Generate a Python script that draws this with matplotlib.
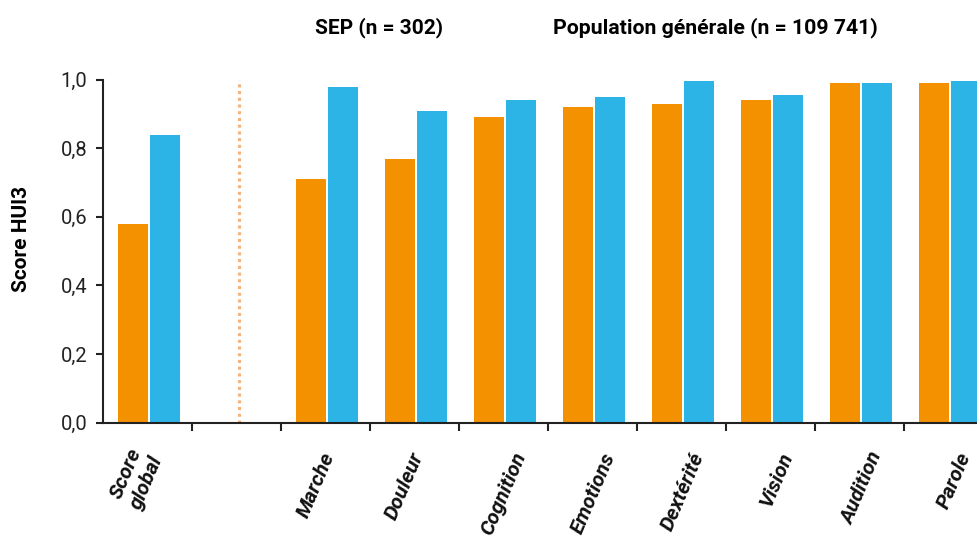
import matplotlib.pyplot as plt
from matplotlib.ticker import FuncFormatter

# Scores HUI3 : SEP vs population générale
categories = ['Score\nglobal', '', 'Marche', 'Douleur', 'Cognition', 'Emotions',
              'Dextérité', 'Vision', 'Audition', 'Parole']
sep = [0.58, None, 0.71, 0.77, 0.89, 0.92, 0.93, 0.94, 0.99, 0.99]
pop = [0.84, None, 0.98, 0.91, 0.94, 0.95, 0.995, 0.955, 0.99, 0.995]
yticks = [0.0, 0.2, 0.4, 0.6, 0.8, 1.0]

orange = '#F39100'
blue = '#2DB4E6'

plt.rcParams['font.family'] = ['Roboto', 'DejaVu Sans']

fig = plt.figure(figsize=(9.78, 5.46), dpi=100)
ax = fig.add_axes([0.105, 0.226, 0.910, 0.628])

w = 0.34
for i in range(len(categories)):
    if sep[i] is None:
        continue
    ax.bar(i - 0.16, sep[i], width=w, color=orange)
    ax.bar(i + 0.20, pop[i], width=w, color=blue)

# séparation score global / dimensions
ax.plot([1.03, 1.03], [0, 1.0], color='#F5B27A', lw=2.2, ls=(0, (1, 1.2)))

ax.set_xlim(-0.5, 9.5)
ax.set_ylim(0, 1.0)
ax.set_yticks(yticks)
ax.yaxis.set_major_formatter(FuncFormatter(lambda v, p: f'{v:.1f}'.replace('.', ',')))
ax.tick_params(axis='y', labelsize=14.5, length=5, width=1.5, color='#222222',
               labelcolor='#222222', pad=6)

# ticks entre les catégories, libellés au centre
ax.set_xticks([i + 0.5 for i in range(len(categories) - 1)])
ax.set_xticklabels([])
ax.tick_params(axis='x', length=6, width=1.5, color='#222222')
for i, lab in enumerate(categories):
    if not lab:
        continue
    if lab in ('Marche', 'Douleur'):
        dx = 0.05
    elif i == 0:
        dx = 0.0
    else:
        dx = 0.2
    ax.text(i + dx, -0.09, lab, rotation=67, ha='right', va='center',
            rotation_mode='anchor', fontsize=15, fontweight='bold',
            fontstyle='italic', color='#111111', transform=ax.transData,
            clip_on=False, linespacing=1.25, multialignment='right')

for s in ['top', 'right']:
    ax.spines[s].set_visible(False)
for s in ['left', 'bottom']:
    ax.spines[s].set_linewidth(1.5)
    ax.spines[s].set_color('#222222')

ax.set_ylabel('Score HUI3', fontsize=15, fontweight='bold')
ax.yaxis.set_label_coords(-0.08, 0.536)

fig.text(0.322, 0.949, 'SEP (n = 302)', fontsize=15, fontweight='bold', va='center')
fig.text(0.565, 0.949, 'Population générale (n = 109 741)', fontsize=15.3,
         fontweight='bold', va='center')

fig.savefig('out.png', dpi=100)
